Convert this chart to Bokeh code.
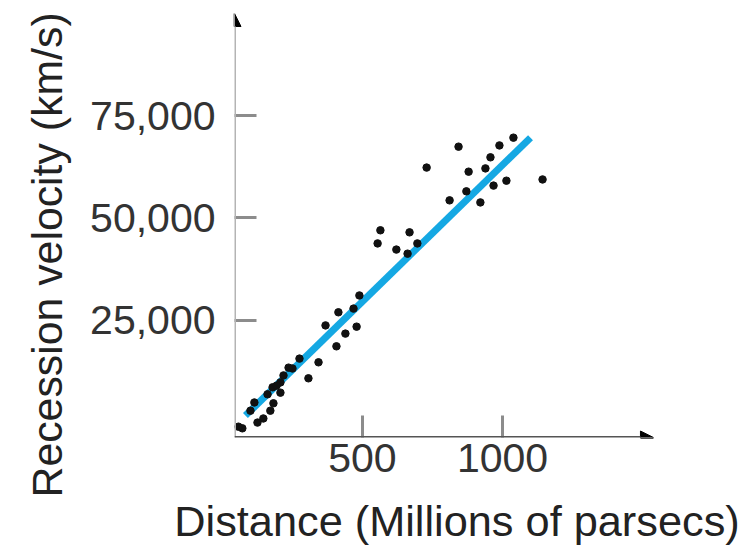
from bokeh.embed import file_html
from bokeh.models import Arrow, FixedTicker, NormalHead, Range1d, Title
from bokeh.plotting import figure
from bokeh.resources import INLINE

# Galaxy distances (Mpc) and recession velocities (km/s)
distance_mpc = [1039, 843, 989, 957, 729, 879, 939, 1014, 1143, 968, 871, 811, 921,
                564, 554, 668, 696, 621, 661,
                489, 468, 414, 368, 479, 439, 407, 275, 343, 250, 307, 218, 236,
                207, 179, 207, 161, 114, 182, 100, 171, 146, 125, 71, 57, 193]
velocity_kms = [69600, 67400, 67700, 64800, 62300, 61300, 62100, 59100, 59400, 57900, 56500, 54300, 53800,
                47000, 43800, 46500, 43800, 42300, 41300,
                31100, 27900, 27000, 23800, 23500, 21800, 18700, 15700, 14800, 13300, 10900, 11600, 13500,
                9900, 8700, 7400, 7000, 5000, 4800, 3000, 3000, 1100, 100, -1300, -900, 9100]

# Best-fit line (Hubble law)
fit_distance = [82, 1100]
fit_velocity = [1800, 69600]

x_ticks = [500, 1000]
y_ticks = [25000, 50000, 75000]
y_tick_labels = ["25,000", "50,000", "75,000"]
x_label = "Distance (Millions of parsecs)"
y_label = "Recession velocity (km/s)"

# Axis extents: the x axis arrow stops short of the right edge of the frame
X0, X_AXIS_END, X1 = 43, 1539, 1632
Y0, Y1 = -3540, 99880

p = figure(width=748, height=547, output_backend="svg", toolbar_location=None,
           x_range=Range1d(X0, X1), y_range=Range1d(Y0, Y1),
           min_border_left=234, min_border_right=69,
           min_border_top=13, min_border_bottom=110)
p.grid.visible = False
p.outline_line_color = None
p.background_fill_color = "white"
p.border_fill_color = "white"

for ax in (p.xaxis[0], p.yaxis[0]):
    ax.axis_line_color = None
    ax.major_tick_in = 22
    ax.major_tick_out = 0
    ax.minor_tick_line_color = None
    ax.major_tick_line_color = "#8c8c8c"
    ax.major_tick_line_width = 3
    ax.major_label_text_font = "Liberation Sans"
    ax.major_label_text_font_size = "41px"
    ax.major_label_text_color = "#333333"

p.xaxis.ticker = FixedTicker(ticks=x_ticks)
p.yaxis.ticker = FixedTicker(ticks=y_ticks)
p.yaxis.major_label_overrides = dict(zip(y_ticks, y_tick_labels))
p.yaxis.major_label_standoff = 19
p.xaxis.major_label_standoff = 6

# x-axis title
p.xaxis.axis_label = x_label
p.xaxis.axis_label_standoff = 22
p.xaxis.axis_label_text_font = "Liberation Sans"
p.xaxis.axis_label_text_font_size = "43.3px"
p.xaxis.axis_label_text_font_style = "normal"
p.xaxis.axis_label_text_color = "#222222"

# Axis lines with arrowheads
p.add_layout(Arrow(end=NormalHead(size=13, fill_color="black", line_color="black", line_width=1),
                   x_start=X0, y_start=Y0, x_end=X0, y_end=Y1,
                   line_color="#b4b4b4", line_width=3))
p.add_layout(Arrow(end=NormalHead(size=13, fill_color="black", line_color="black", line_width=1),
                   x_start=X0, y_start=Y0, x_end=X_AXIS_END, y_end=Y0,
                   line_color="#555555", line_width=3))

p.line(fit_distance, fit_velocity, line_width=7, line_color="#15a8e3", line_cap="butt")
p.scatter(distance_mpc, velocity_kms, size=7.5, color="#111111")

# y-axis title
p.add_layout(Title(text=y_label, align="left", offset=-60, standoff=34,
                   vertical_align="bottom", text_font="Liberation Sans",
                   text_font_size="42.8px", text_font_style="normal",
                   text_color="#222222"), "left")

open("out.html", "w").write(file_html(p, INLINE))
